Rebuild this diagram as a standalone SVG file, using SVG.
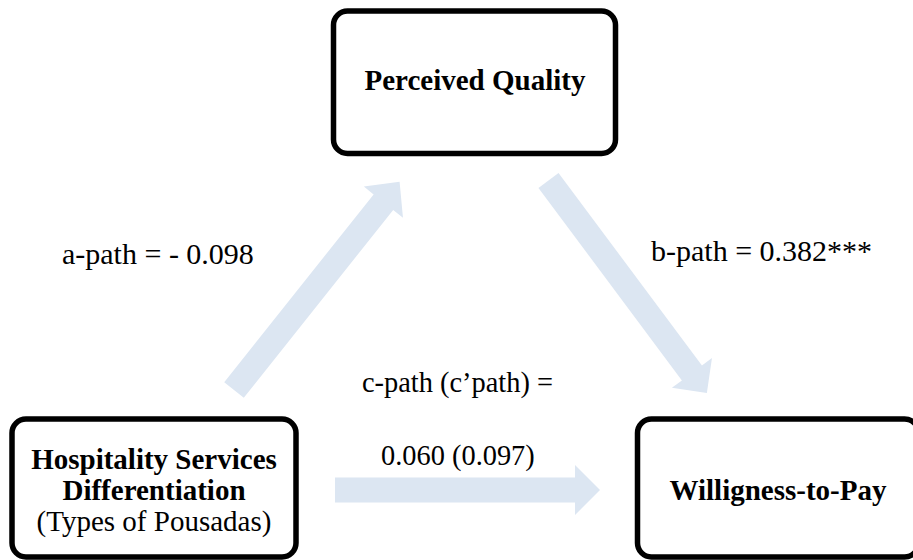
<svg xmlns="http://www.w3.org/2000/svg" width="913" height="560" viewBox="0 0 913 560">
  <defs>
    <style>
      .box { fill: #ffffff; stroke: #000000; stroke-width: 5.5; }
      .arrow { fill: #dce6f2; stroke: none; }
      .title { font-family: "Liberation Serif", "Times New Roman", serif; font-weight: bold; font-size: 29px; fill: #000000; text-anchor: middle; }
      .sub { font-family: "Liberation Serif", "Times New Roman", serif; font-size: 29px; fill: #000000; text-anchor: middle; }
      .label { font-family: "Liberation Serif", "Times New Roman", serif; font-size: 28.4px; fill: #000000; }
      .label-lg { font-family: "Liberation Serif", "Times New Roman", serif; font-size: 30px; fill: #000000; }
    </style>
  </defs>

  <!-- block arrows between the constructs -->
  <g id="connectors">
    <!-- a-path: differentiation -> perceived quality -->
    <g transform="translate(234,390) rotate(-51.5)">
      <polygon class="arrow" points="0,-12.5 240,-12.5 240,-25 266,0 240,25 240,12.5 0,12.5"/>
    </g>
    <!-- b-path: perceived quality -> willingness-to-pay -->
    <g transform="translate(548.5,180.5) rotate(53.3)">
      <polygon class="arrow" points="0,-12.5 240,-12.5 240,-25 265,0 240,25 240,12.5 0,12.5"/>
    </g>
    <!-- c-path: differentiation -> willingness-to-pay -->
    <polygon class="arrow" points="335,477.5 575,477.5 575,465 600,490 575,515 575,502.5 335,502.5"/>
  </g>

  <g id="node-perceived-quality">
    <rect class="box" x="333.5" y="11" width="282" height="142.5" rx="14" ry="14"/>
    <text class="title" x="475" y="90">Perceived Quality</text>
  </g>

  <g id="node-differentiation">
    <rect class="box" x="12" y="419" width="284" height="138" rx="14" ry="14"/>
    <text class="title" x="154" y="469">Hospitality Services</text>
    <text class="title" x="154" y="500">Differentiation</text>
    <text class="sub" x="154" y="531">(Types of Pousadas)</text>
  </g>

  <g id="node-willingness">
    <rect class="box" x="637.5" y="419" width="281" height="138" rx="14" ry="14"/>
    <text class="title" x="778" y="500">Willigness-to-Pay</text>
  </g>

  <g id="path-labels">
    <text class="label-lg" x="62" y="264">a-path = - 0.098</text>
    <text class="label-lg" x="651" y="261">b-path = 0.382***</text>
    <text class="label" x="362" y="392">c-path (c’path) =</text>
    <text class="label" x="381" y="465">0.060 (0.097)</text>
  </g>
</svg>
